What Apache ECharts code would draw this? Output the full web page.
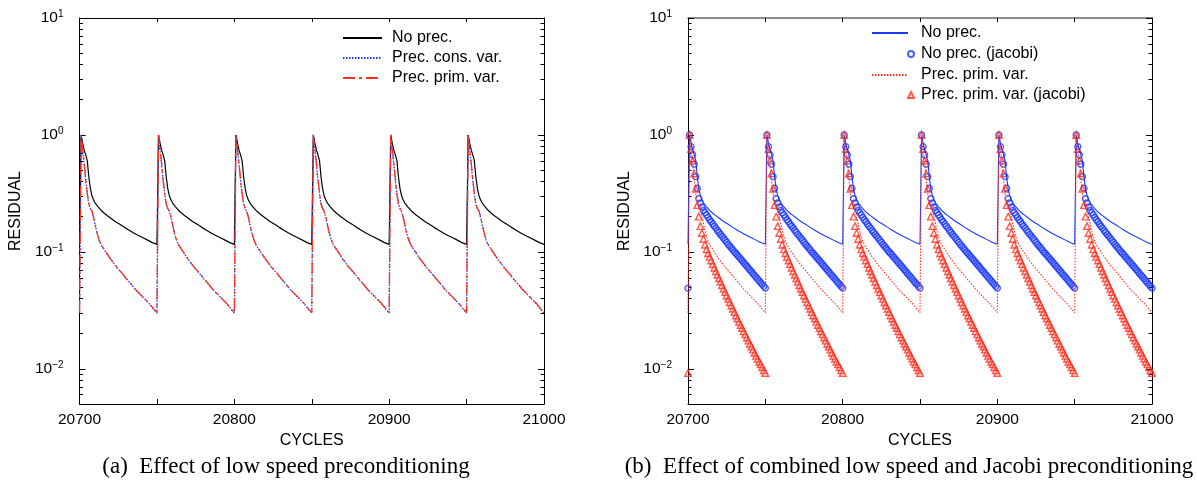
<!DOCTYPE html>
<html><head><meta charset="utf-8">
<script src="https://cdn.jsdelivr.net/npm/echarts@6/dist/echarts.min.js"></script>
<style>
html,body{margin:0;padding:0;background:#fff;width:1197px;height:484px;overflow:hidden}
#a{position:absolute;left:0;top:0;width:598px;height:484px}
#b{position:absolute;left:598px;top:0;width:599px;height:484px}
</style>
</head><body><div id="a"></div><div id="b"></div>
<script>
// ---------------- data ----------------
const cycleStarts = [20700, 20750, 20800, 20850, 20900, 20950];
const lastCycle = 21000;

// one restart cycle: cycle offsets and residuals (same shape repeats every 50 cycles)
const noPrecOffsets = [0, 1, 2, 3, 4, 5, 6, 7, 8, 9, 10, 12, 14, 16, 18, 20, 23, 26, 29, 32, 35, 38, 41, 44, 47];
const noPrecValues  = [0.116, 1.0, 0.851, 0.741, 0.676, 0.603, 0.437, 0.347, 0.302, 0.279, 0.263, 0.243, 0.226, 0.214, 0.204, 0.195, 0.182, 0.172, 0.162, 0.153, 0.145, 0.138, 0.132, 0.126, 0.120];

const precOffsets = [0, 1, 2, 3, 4, 5, 6, 7, 8, 9, 10, 11, 12, 13, 14, 15, 16, 18, 20, 22, 24, 26, 28, 30, 33, 36, 39, 42, 45, 48];
const precConsValues = [0.0300, 1.0, 0.740, 0.560, 0.410, 0.310, 0.255, 0.233, 0.222, 0.198, 0.172, 0.150, 0.134, 0.122, 0.115, 0.109, 0.104, 0.0950, 0.0868, 0.0800, 0.0738, 0.0689, 0.0643, 0.0593, 0.0535, 0.0477, 0.0435, 0.0396, 0.0361, 0.0322];
const precPrimValues = [0.0302, 1.0, 0.759, 0.575, 0.417, 0.316, 0.257, 0.234, 0.224, 0.200, 0.174, 0.151, 0.135, 0.123, 0.115, 0.110, 0.105, 0.0955, 0.0871, 0.0804, 0.0741, 0.0692, 0.0646, 0.0596, 0.0537, 0.0479, 0.0437, 0.0398, 0.0363, 0.0324];

// Jacobi runs: one value per cycle, offsets 0..49
const noPrecJacobiValues = [0.049, 1.0, 0.794, 0.676, 0.562, 0.44, 0.35, 0.285, 0.262, 0.242, 0.226, 0.216, 0.207, 0.197, 0.188, 0.181, 0.173, 0.166, 0.160, 0.153, 0.147, 0.141, 0.136, 0.131, 0.126, 0.121, 0.116, 0.112, 0.108, 0.104, 0.100, 0.0969, 0.0935, 0.0902, 0.0870, 0.0840, 0.0810, 0.0781, 0.0754, 0.0727, 0.0702, 0.0677, 0.0653, 0.0630, 0.0608, 0.0586, 0.0565, 0.0545, 0.0526, 0.0508];
const precPrimJacobiValues = [0.0092, 1.0, 0.759, 0.603, 0.468, 0.347, 0.251, 0.200, 0.166, 0.145, 0.129, 0.115, 0.105, 0.0973, 0.0906, 0.0843, 0.0785, 0.0731, 0.0682, 0.0637, 0.0594, 0.0555, 0.0518, 0.0484, 0.0453, 0.0424, 0.0396, 0.0371, 0.0348, 0.0326, 0.0305, 0.0286, 0.0269, 0.0252, 0.0237, 0.0223, 0.0209, 0.0197, 0.0185, 0.0174, 0.0164, 0.0155, 0.0146, 0.0137, 0.0129, 0.0122, 0.0115, 0.0109, 0.0103, 0.0097];

const xTickValues = [20700, 20800, 20900, 21000];
const xTickLabels = ['20700', '20800', '20900', '21000'];
const yTickValues = [0.01, 0.1, 1, 10];
const yTickExponents = ['\u22122', '\u22121', '0', '1'];
const yMinorTicks = [0.006, 0.007, 0.008, 0.009, 0.02, 0.03, 0.04, 0.05, 0.06, 0.07, 0.08, 0.09,
  0.2, 0.3, 0.4, 0.5, 0.6, 0.7, 0.8, 0.9, 2, 3, 4, 5, 6, 7, 8, 9];

const captionA = '(a)  Effect of low speed preconditioning';
const captionB = '(b)  Effect of combined low speed and Jacobi preconditioning';

// ---------------- helpers ----------------
const FONT = '"Liberation Sans", Arial, Helvetica, sans-serif';
const SERIF = '"Liberation Serif", "Times New Roman", serif';
const BLUE = '#1a38ff', RED = '#ff3020';

function cyclePoints(offsets, values) {
  const pts = [];
  cycleStarts.forEach(c => offsets.forEach((o, i) => pts.push([c + o, values[i]])));
  pts.push([lastCycle, values[0]]);
  return pts;
}
function everyCyclePoints(values) {
  const pts = [];
  cycleStarts.forEach(c => values.forEach((v, i) => pts.push([c + i, v])));
  pts.push([lastCycle, values[0]]);
  return pts;
}
function yFmt(v) {
  const i = yTickValues.findIndex(t => Math.abs(t - v) / t < 1e-6);
  return i < 0 ? '' : '{b|10}{s|' + yTickExponents[i] + '}';
}
function xFmt(v) {
  const i = xTickValues.indexOf(v);
  return i < 0 ? '' : xTickLabels[i];
}

function makeAxes(topColor, topWidth, nameGapY) {
  const yBase = { type: 'log', logBase: 10, min: 0.005, max: 10, splitLine: { show: false },
    axisLine: { show: true, onZero: false, lineStyle: { color: '#000', width: 1 } } };
  const xBase = { type: 'value', min: 20700, max: 21000, interval: 50, splitLine: { show: false },
    axisLine: { show: true, onZero: false, lineStyle: { color: '#000', width: 1 } } };
  return {
    xAxis: [
      Object.assign({}, xBase, {
        position: 'bottom',
        axisTick: { inside: true, length: 5, lineStyle: { color: '#000' } },
        axisLabel: { customValues: xTickValues, formatter: xFmt, margin: 8, color: '#000', fontFamily: FONT, fontSize: 15.5 },
        name: 'CYCLES', nameLocation: 'middle', nameGap: 26,
        nameTextStyle: { color: '#000', fontFamily: FONT, fontSize: 16 }
      }),
      Object.assign({}, xBase, {
        position: 'top',
        axisLine: { show: true, onZero: false, lineStyle: { color: topColor, width: topWidth } },
        axisTick: { inside: true, length: 4, lineStyle: { color: '#000' } },
        axisLabel: { show: false }
      })
    ],
    yAxis: [
      Object.assign({}, yBase, {
        position: 'left',
        axisTick: { inside: true, length: 6, customValues: yTickValues, lineStyle: { color: '#000' } },
        axisLabel: { customValues: yTickValues, formatter: yFmt, margin: 16,
          rich: {
            b: { fontFamily: FONT, fontSize: 15.5, color: '#000', lineHeight: 18 },
            s: { fontFamily: FONT, fontSize: 10, color: '#000', lineHeight: 12, verticalAlign: 'top' }
          } },
        name: 'RESIDUAL', nameLocation: 'middle', nameGap: nameGapY,
        nameTextStyle: { color: '#000', fontFamily: FONT, fontSize: 16 }
      }),
      Object.assign({}, yBase, {
        position: 'left', axisLine: { show: false },
        axisTick: { inside: true, length: 3.5, customValues: yMinorTicks, lineStyle: { color: '#000' } },
        axisLabel: { show: false }
      }),
      Object.assign({}, yBase, {
        position: 'right',
        axisTick: { inside: true, length: 6, customValues: yTickValues, lineStyle: { color: '#000' } },
        axisLabel: { show: false }
      }),
      Object.assign({}, yBase, {
        position: 'right', axisLine: { show: false },
        axisTick: { inside: true, length: 3.5, customValues: yMinorTicks, lineStyle: { color: '#000' } },
        axisLabel: { show: false }
      })
    ]
  };
}

function lineSeries(name, data, color, width, type) {
  return { name, type: 'line', data, symbol: 'none', showSymbol: false, silent: true,
    lineStyle: { color, width, type }, itemStyle: { color }, emphasis: { disabled: true }, animation: false };
}
function markerSeries(name, data, color, symbol, size) {
  return { name, type: 'scatter', data, symbol, symbolSize: size, silent: true,
    itemStyle: { color: 'rgba(0,0,0,0)', borderColor: color, borderWidth: 1.4 },
    emphasis: { disabled: true }, animation: false };
}
const legendText = (pad) => ({ fontFamily: FONT, fontSize: 16, color: '#000', lineHeight: 20, padding: [0, 0, 0, pad] });
const hiddenSymbol = { opacity: 0 };

function caption(text, cx) {
  return { type: 'text', x: cx, y: 467, silent: true,
    style: { text, font: '23px ' + SERIF, fill: '#000', textAlign: 'center', textVerticalAlign: 'middle' } };
}

// ---------------- panel (a) ----------------
const chartA = echarts.init(document.getElementById('a'), null, { renderer: 'canvas' });
const axesA = makeAxes('#000', 1, 53);
chartA.setOption({
  animation: false,
  backgroundColor: '#fff',
  grid: { left: 78, right: 54, top: 18, bottom: 80, containLabel: false },
  xAxis: axesA.xAxis,
  yAxis: axesA.yAxis,
  legend: {
    data: ['No prec.', 'Prec. cons. var.', 'Prec. prim. var.'],
    orient: 'vertical', left: 342, top: 28, padding: 0, itemGap: 0,
    itemWidth: 39, itemHeight: 10, selectedMode: false,
    itemStyle: hiddenSymbol,
    textStyle: legendText(5)
  },
  graphic: [caption(captionA, 286)],
  series: [
    lineSeries('No prec.', cyclePoints(noPrecOffsets, noPrecValues), '#000', 1.2, 'solid'),
    lineSeries('Prec. cons. var.', cyclePoints(precOffsets, precConsValues), BLUE, 1.3, [1.5, 1.5]),
    lineSeries('Prec. prim. var.', cyclePoints(precOffsets, precPrimValues), RED, 1.3, [12, 4, 3, 4])
  ]
});

// ---------------- panel (b) ----------------
const chartB = echarts.init(document.getElementById('b'), null, { renderer: 'canvas' });
const axesB = makeAxes('#666', 1.5, 52);
chartB.setOption({
  animation: false,
  backgroundColor: '#fff',
  grid: { left: 90, right: 45, top: 18, bottom: 80, containLabel: false },
  xAxis: axesB.xAxis,
  yAxis: axesB.yAxis,
  legend: [
    { data: ['No prec.'], left: 273, top: 23, padding: 0, itemWidth: 36, itemHeight: 10, selectedMode: false, itemStyle: hiddenSymbol, textStyle: legendText(8) },
    { data: ['No prec. (jacobi)'], left: 309, top: 44, padding: 0, itemWidth: 6, itemHeight: 6, selectedMode: false, textStyle: legendText(2) },
    { data: ['Prec. prim. var.'], left: 273, top: 65, padding: 0, itemWidth: 36, itemHeight: 10, selectedMode: false, itemStyle: hiddenSymbol, textStyle: legendText(8) },
    { data: ['Prec. prim. var. (jacobi)'], left: 309, top: 85, padding: 0, itemWidth: 6, itemHeight: 6, selectedMode: false, textStyle: legendText(2) }
  ],
  graphic: [caption(captionB, 311)],
  series: [
    lineSeries('No prec.', cyclePoints(noPrecOffsets, noPrecValues), BLUE, 1.1, 'solid'),
    markerSeries('No prec. (jacobi)', everyCyclePoints(noPrecJacobiValues), BLUE, 'circle', 6),
    lineSeries('Prec. prim. var.', cyclePoints(precOffsets, precPrimValues), RED, 1.1, [1.5, 1.5]),
    markerSeries('Prec. prim. var. (jacobi)', everyCyclePoints(precPrimJacobiValues), RED, 'triangle', 6.5)
  ]
});
</script>
</body></html>
